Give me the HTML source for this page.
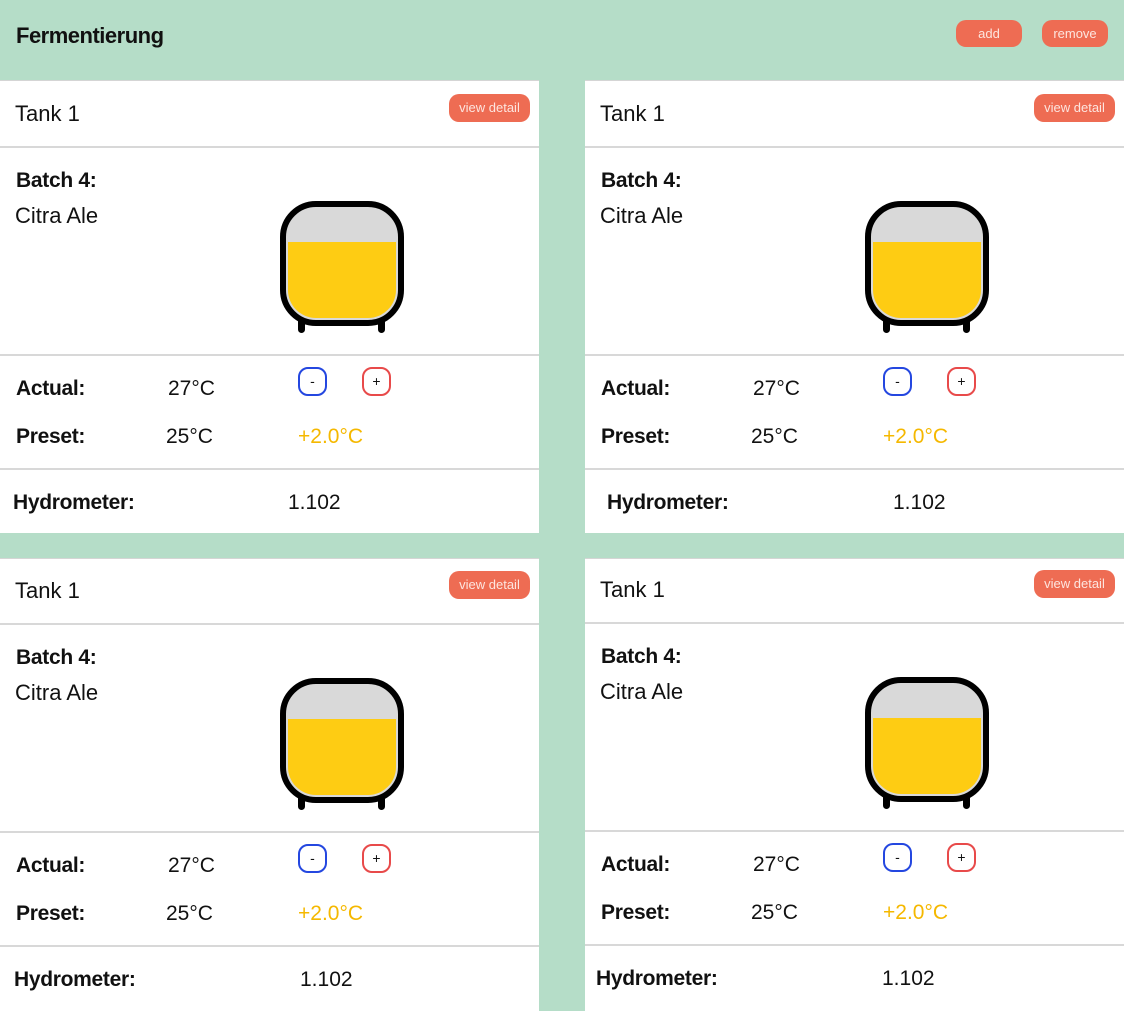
<!DOCTYPE html>
<html><head><meta charset="utf-8"><style>
*{margin:0;padding:0;box-sizing:border-box}
body{width:1124px;height:1009px;background:#b5ddc8;position:relative;overflow:hidden;font-family:"Liberation Sans",sans-serif;color:#111}
.t{position:absolute;white-space:nowrap;line-height:1}
.hdr{position:absolute;left:16px;top:23px;font-size:22px;font-weight:bold;letter-spacing:-0.5px}
.btn{position:absolute;background:#ee6c53;color:#fde5df;border-radius:10px;font-size:13px;text-align:center}
.card{position:absolute;width:539px;height:453px;background:#fff;border-top:1px solid #d5d5d5}
.div{position:absolute;left:0;width:539px;height:2px;background:#d8d8d8}
.sb{position:absolute;width:29px;height:29px;border:2px solid;border-radius:10px;font-size:14px;text-align:center;line-height:24px}
.tank{position:absolute;left:280px;top:120px;width:124px;height:125px;border:6px solid #000;border-radius:36px;background:#d9d9d9;overflow:hidden}
.fill{position:absolute;left:2px;right:2px;bottom:2px;top:35px;background:#fecc13;border-radius:0 0 28px 28px}
.leg{position:absolute;width:7px;height:14px;background:#000;top:238px;border-radius:0 0 4px 4px}
b{font-weight:bold;letter-spacing:-0.3px}
</style></head><body>
<div class="hdr">Fermentierung</div>
<div class="btn" style="left:956px;top:20px;width:66px;height:27px;line-height:27px">add</div>
<div class="btn" style="left:1042px;top:20px;width:66px;height:27px;line-height:27px">remove</div>

<div class="card" style="left:0;top:80px">
<div class="t" style="left:15px;top:22px;font-size:22px">Tank 1</div>
<div class="btn" style="left:449px;top:13px;width:81px;height:28px;line-height:28px">view detail</div>
<div class="div" style="top:65px"></div>
<div class="t" style="left:16px;top:89px;font-size:21px"><b>Batch 4:</b></div>
<div class="t" style="left:15px;top:124px;font-size:22px">Citra Ale</div>
<div class="tank"><div class="fill"></div></div>
<div class="leg" style="left:298px"></div><div class="leg" style="left:378px"></div>
<div class="div" style="top:273px"></div>
<div class="t" style="left:16px;top:297px;font-size:21px"><b>Actual:</b></div>
<div class="t" style="left:168px;top:297px;font-size:21px">27°C</div>
<div class="sb" style="left:298px;top:286px;border-color:#2447e0">-</div>
<div class="sb" style="left:362px;top:286px;border-color:#e84a4a">+</div>
<div class="t" style="left:16px;top:345px;font-size:21px"><b>Preset:</b></div>
<div class="t" style="left:166px;top:345px;font-size:21px">25°C</div>
<div class="t" style="left:298px;top:345px;font-size:21px;color:#f5b800">+2.0°C</div>
<div class="div" style="top:387px"></div>
<div class="t" style="left:13px;top:411px;font-size:21px"><b>Hydrometer:</b></div>
<div class="t" style="left:288px;top:411px;font-size:21px">1.102</div>
</div>

<div class="card" style="left:585px;top:80px">
<div class="t" style="left:15px;top:22px;font-size:22px">Tank 1</div>
<div class="btn" style="left:449px;top:13px;width:81px;height:28px;line-height:28px">view detail</div>
<div class="div" style="top:65px"></div>
<div class="t" style="left:16px;top:89px;font-size:21px"><b>Batch 4:</b></div>
<div class="t" style="left:15px;top:124px;font-size:22px">Citra Ale</div>
<div class="tank"><div class="fill"></div></div>
<div class="leg" style="left:298px"></div><div class="leg" style="left:378px"></div>
<div class="div" style="top:273px"></div>
<div class="t" style="left:16px;top:297px;font-size:21px"><b>Actual:</b></div>
<div class="t" style="left:168px;top:297px;font-size:21px">27°C</div>
<div class="sb" style="left:298px;top:286px;border-color:#2447e0">-</div>
<div class="sb" style="left:362px;top:286px;border-color:#e84a4a">+</div>
<div class="t" style="left:16px;top:345px;font-size:21px"><b>Preset:</b></div>
<div class="t" style="left:166px;top:345px;font-size:21px">25°C</div>
<div class="t" style="left:298px;top:345px;font-size:21px;color:#f5b800">+2.0°C</div>
<div class="div" style="top:387px"></div>
<div class="t" style="left:22px;top:411px;font-size:21px"><b>Hydrometer:</b></div>
<div class="t" style="left:308px;top:411px;font-size:21px">1.102</div>
</div>

<div class="card" style="left:0;top:558px">
<div class="t" style="left:15px;top:21px;font-size:22px">Tank 1</div>
<div class="btn" style="left:449px;top:12px;width:81px;height:28px;line-height:28px">view detail</div>
<div class="div" style="top:64px"></div>
<div class="t" style="left:16px;top:88px;font-size:21px"><b>Batch 4:</b></div>
<div class="t" style="left:15px;top:123px;font-size:22px">Citra Ale</div>
<div class="tank" style="top:119px"><div class="fill"></div></div>
<div class="leg" style="left:298px;top:237px"></div><div class="leg" style="left:378px;top:237px"></div>
<div class="div" style="top:272px"></div>
<div class="t" style="left:16px;top:296px;font-size:21px"><b>Actual:</b></div>
<div class="t" style="left:168px;top:296px;font-size:21px">27°C</div>
<div class="sb" style="left:298px;top:285px;border-color:#2447e0">-</div>
<div class="sb" style="left:362px;top:285px;border-color:#e84a4a">+</div>
<div class="t" style="left:16px;top:344px;font-size:21px"><b>Preset:</b></div>
<div class="t" style="left:166px;top:344px;font-size:21px">25°C</div>
<div class="t" style="left:298px;top:344px;font-size:21px;color:#f5b800">+2.0°C</div>
<div class="div" style="top:386px"></div>
<div class="t" style="left:14px;top:410px;font-size:21px"><b>Hydrometer:</b></div>
<div class="t" style="left:300px;top:410px;font-size:21px">1.102</div>
</div>

<div class="card" style="left:585px;top:558px">
<div class="t" style="left:15px;top:20px;font-size:22px">Tank 1</div>
<div class="btn" style="left:449px;top:11px;width:81px;height:28px;line-height:28px">view detail</div>
<div class="div" style="top:63px"></div>
<div class="t" style="left:16px;top:87px;font-size:21px"><b>Batch 4:</b></div>
<div class="t" style="left:15px;top:122px;font-size:22px">Citra Ale</div>
<div class="tank" style="top:118px"><div class="fill"></div></div>
<div class="leg" style="left:298px;top:236px"></div><div class="leg" style="left:378px;top:236px"></div>
<div class="div" style="top:271px"></div>
<div class="t" style="left:16px;top:295px;font-size:21px"><b>Actual:</b></div>
<div class="t" style="left:168px;top:295px;font-size:21px">27°C</div>
<div class="sb" style="left:298px;top:284px;border-color:#2447e0">-</div>
<div class="sb" style="left:362px;top:284px;border-color:#e84a4a">+</div>
<div class="t" style="left:16px;top:343px;font-size:21px"><b>Preset:</b></div>
<div class="t" style="left:166px;top:343px;font-size:21px">25°C</div>
<div class="t" style="left:298px;top:343px;font-size:21px;color:#f5b800">+2.0°C</div>
<div class="div" style="top:385px"></div>
<div class="t" style="left:11px;top:409px;font-size:21px"><b>Hydrometer:</b></div>
<div class="t" style="left:297px;top:409px;font-size:21px">1.102</div>
</div>
</body></html>
